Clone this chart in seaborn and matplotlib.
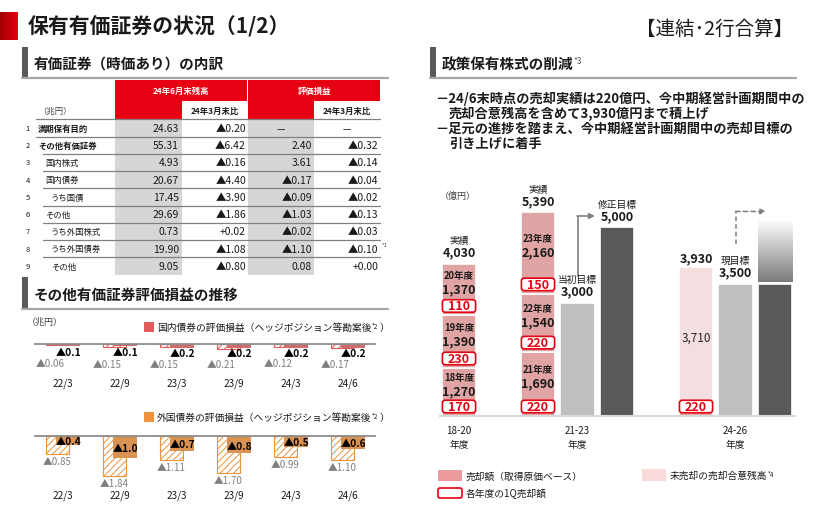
import numpy as np
import pandas as pd
import seaborn as sns
import matplotlib.pyplot as plt
from matplotlib.patches import Rectangle, FancyBboxPatch
from matplotlib.colors import LinearSegmentedColormap

sns.set_theme(style="white")
plt.rcParams['font.family'] = ['Noto Sans CJK JP', 'DejaVu Sans']
plt.rcParams['hatch.linewidth'] = 0.7

# --- 有価証券（時価あり）の内訳 (兆円) ---
row_labels = ["満期保有目的", "その他有価証券", "国内株式", "国内債券", "うち国債",
              "その他", "うち外国株式", "うち外国債券", "その他"]
row_level = [0, 0, 1, 1, 2, 1, 2, 2, 2]
balance = [24.63, 55.31, 4.93, 20.67, 17.45, 29.69, 0.73, 19.90, 9.05]
balance_chg = [-0.20, -6.42, -0.16, -4.40, -3.90, -1.86, 0.02, -1.08, -0.80]
gain = [None, 2.40, 3.61, -0.17, -0.09, -1.03, -0.02, -1.10, 0.08]
gain_chg = [None, -0.32, -0.14, -0.04, -0.02, -0.13, -0.03, -0.10, 0.00]

# --- その他有価証券評価損益の推移 (兆円, 損失額) ---
periods = ["22/3", "22/9", "23/3", "23/9", "24/3", "24/6"]
jgb_gross = [0.06, 0.15, 0.15, 0.21, 0.12, 0.17]
jgb_hedged = [0.1, 0.1, 0.2, 0.2, 0.2, 0.2]
fgn_gross = [0.85, 1.84, 1.11, 1.70, 0.99, 1.10]
fgn_hedged = [0.4, 1.0, 0.7, 0.8, 0.5, 0.6]

# --- 政策保有株式の削減 (億円) ---
plan_periods = ["18-20", "21-23", "24-26"]
fy_a = ["18年度", "19年度", "20年度"]
sold_a = [1270, 1390, 1370]
q1_a = [170, 230, 110]
fy_b = ["21年度", "22年度", "23年度"]
sold_b = [1690, 1540, 2160]
q1_b = [220, 220, 150]
target_b_initial = 3000
target_b_revised = 5000
sold_c = 220
agreed_c = 3710
target_c = 3500
target_c_hint = 5200   # 引き上げ予定 (ぼかし上端)

RED = '#E60012'
SALMON = '#EA9A9A'
PINK = '#F9DADB'
LGREY = '#BFBFBF'
DGREY = '#595959'
JGB = '#E15B5B'
FGN = '#F0913C'
TXT = '#1A1A1A'

W, H = 815, 510
fig = plt.figure(figsize=(W / 100, H / 100), dpi=100)
fig.patch.set_facecolor('white')


def px_axes(x, y, w, h):
    ax = fig.add_axes([x / W, 1 - (y + h) / H, w / W, h / H])
    ax.patch.set_alpha(0)
    return ax


bg = px_axes(0, 0, W, H)
bg.axis('off')

# title
cm_red = LinearSegmentedColormap.from_list('red', ['#A00000', RED])
bg.imshow(np.linspace(0, 1, 64).reshape(1, -1), cmap=cm_red,
          extent=[0, 18, 41, 13], aspect='auto')
bg.text(28, 27, "保有有価証券の状況（1/2）", fontsize=15, fontweight='bold',
        ha='left', va='center', color=TXT)
bg.text(793, 29, "【連結･2行合算】", fontsize=14, ha='right', va='center', color=TXT)


def section(x0, x1, y0, y1, title):
    bg.add_patch(Rectangle((x0, y0), 6, y1 - y0, color=DGREY, lw=0))
    bg.plot([x0, x1], [y1, y1], color='#A6A6A6', lw=1.6)
    return bg.text(x0 + 12, (y0 + y1) / 2 + 1, title, fontsize=10.5,
                   fontweight='bold', ha='left', va='center', color=TXT)


section(22, 388, 48, 79, "有価証券（時価あり）の内訳")
t = section(430, 796, 48, 79, "政策保有株式の削減")
bg.annotate("*3", xy=(1, 0.95), xycoords=t, fontsize=6, color='#595959',
            ha='left', va='top')
section(22, 388, 278, 310, "その他有価証券評価損益の推移")

# bullets
bullets = [("－24/6末時点の売却実績は220億円、今中期経営計画期間中の", 435, 99),
           ("売却合意残高を含めて3,930億円まで積上げ", 449, 114),
           ("－足元の進捗を踏まえ、今中期経営計画期間中の売却目標の", 435, 129),
           ("引き上げに着手", 449, 144)]
for s, x, y in bullets:
    bg.text(x, y, s, fontsize=9.5, fontweight='bold', ha='left', va='center', color=TXT)


# ---------------- table ----------------
def fmt_chg(v):
    return f"▲{abs(v):.2f}" if v < 0 else f"+{v:.2f}"


def fmt_lvl(v):
    return f"▲{abs(v):.2f}" if v < 0 else f"{v:.2f}"


bg.add_patch(Rectangle((115, 81), 132, 39, color=RED, lw=0))
bg.add_patch(Rectangle((248, 81), 132, 39, color=RED, lw=0))
bg.add_patch(Rectangle((182, 102), 65, 18, color='white', lw=0))
bg.add_patch(Rectangle((314, 102), 66, 18, color='white', lw=0))
bg.text(181, 91, "24年6月末残高", color='white', fontsize=6, fontweight='bold',
        ha='center', va='center')
bg.text(314, 91, "評価損益", color='white', fontsize=6, fontweight='bold',
        ha='center', va='center')
bg.text(214.5, 111, "24年3月末比", fontsize=6, fontweight='bold', ha='center', va='center', color=TXT)
bg.text(347, 111, "24年3月末比", fontsize=6, fontweight='bold', ha='center', va='center', color=TXT)
bg.text(38, 111, "（兆円）", fontsize=6, ha='left', va='center', color='#404040')

row_y = [129 + 17.25 * i for i in range(len(row_labels))]
tbl_bottom = row_y[-1] + 8.6
bg.add_patch(Rectangle((115, 120), 67, tbl_bottom - 120, color='#D6D6D6', lw=0))
bg.add_patch(Rectangle((248, 120), 66, tbl_bottom - 120, color='#D6D6D6', lw=0))
bg.plot([36, 380], [120, 120], color='#808080', lw=0.9)
for i in range(len(row_labels) - 1):
    x0 = 36 if i == 0 else 43
    bg.plot([x0, 380], [row_y[i] + 8.6] * 2, color='#808080', lw=0.9)

label_x = [38, 45, 51]
for i, y in enumerate(row_y):
    bg.text(28, y, str(i + 1), fontsize=5.5, ha='center', va='center', color=TXT)
    bg.text(label_x[row_level[i]], y, row_labels[i], fontsize=6,
            fontweight='bold' if row_level[i] == 0 else 'normal',
            ha='left', va='center', color=TXT)
    bg.text(179, y, f"{balance[i]:.2f}", fontsize=7.5, ha='right', va='center', color=TXT)
    bg.text(246, y, fmt_chg(balance_chg[i]), fontsize=7.5, ha='right', va='center', color=TXT)
    if gain[i] is None:
        bg.text(281, y, "－", fontsize=7.5, ha='center', va='center', color=TXT)
        bg.text(347, y, "－", fontsize=7.5, ha='center', va='center', color=TXT)
    else:
        bg.text(312, y, fmt_lvl(gain[i]), fontsize=7.5, ha='right', va='center', color=TXT)
        bg.text(378, y, fmt_chg(gain_chg[i]), fontsize=7.5, ha='right', va='center', color=TXT)
bg.text(382, row_y[7] - 4, "*1", fontsize=4, ha='left', va='center', color='#404040')

# ---------------- valuation gain charts ----------------
bg.text(27, 322, "（兆円）", fontsize=6.5, ha='left', va='center', color='#404040')


def gain_chart(top, h, gross, hedged, color, legend, legend_y, label_px, domestic):
    ax = px_axes(35, top, 340, h)
    u = 1 / 21.7
    idx = np.arange(len(periods))
    d_gross = pd.DataFrame({"x": idx - 0.1, "v": -np.array(gross)})
    d_hedged = pd.DataFrame({"x": idx + 0.09, "v": -np.array(hedged)})
    sns.barplot(data=d_gross, x="x", y="v", orient='x', native_scale=True, width=0.4,
                errorbar=None, facecolor='white', edgecolor=color, hatch='/////',
                linewidth=0.8, ax=ax)
    sns.barplot(data=d_hedged, x="x", y="v", orient='x', native_scale=True, width=0.42,
                errorbar=None, color=color, linewidth=0, ax=ax)
    for i, (g, hv) in enumerate(zip(gross, hedged)):
        if domestic:
            gx, gy, hy = i - 0.22, -(g * 0.5 + 18 * u), -(hv * 0.5 + 7 * u)
        else:
            gx, gy, hy = i - 0.1, -(g + 7 * u), -hv * 0.55
        ax.text(gx, gy, f"▲{g:.2f}", color='#7F7F7F', fontsize=7,
                ha='center', va='center', clip_on=False)
        ax.text(i + 0.09, hy, f"▲{hv:.1f}", color='black', fontsize=7.3,
                fontweight='bold', ha='center', va='center', clip_on=False)
        ax.text(i, -label_px * u, periods[i], fontsize=7.2, ha='center',
                va='center', color=TXT, clip_on=False)
    ax.set_xlim(-0.491, 5.474)
    ax.set_ylim(-h * u, 0)
    for s in ['left', 'right', 'bottom']:
        ax.spines[s].set_visible(False)
    ax.spines['top'].set_color('#8C8C8C')
    ax.spines['top'].set_linewidth(1.3)
    ax.set_xticks([])
    ax.set_yticks([])
    ax.set(xlabel='', ylabel='')

    bg.add_patch(Rectangle((144, legend_y - 5), 10, 10, color=color, lw=0))
    t1 = bg.text(157, legend_y, legend, fontsize=7, ha='left', va='center', color=TXT)
    sup = bg.annotate("*2", xy=(1, 0.95), xycoords=t1, fontsize=4.5,
                      ha='left', va='top', color=TXT)
    bg.annotate(" ）", xy=(1, 0.5), xycoords=(sup, t1), fontsize=7,
                ha='left', va='center', color=TXT)


gain_chart(345, 47, jgb_gross, jgb_hedged, JGB,
           "国内債券の評価損益（ヘッジポジション等勘案後", 328, 39, True)
gain_chart(437, 63, fgn_gross, fgn_hedged, FGN,
           "外国債券の評価損益（ヘッジポジション等勘案後", 418, 59, False)

# ---------------- cross-shareholdings chart ----------------
ax = px_axes(440, 185, 355, 232)
UPP = 1 / 0.0378     # data units per pixel
XPX = 39.5           # pixels per x unit
P_A, P_B, P_BI, P_BR, P_C, P_CT, P_CH = 0, 2, 3, 4, 6, 7, 8


def bar(pos, height, bottom, color):
    sns.barplot(x=[pos], y=[height], orient='x', native_scale=True, width=0.88,
                errorbar=None, color=color, bottom=bottom, linewidth=1.2,
                edgecolor='white', ax=ax)


def q1_box(pos, yc, q):
    hh = 12.5 * UPP
    ax.add_patch(FancyBboxPatch((pos - 0.42, yc - hh / 2), 0.84, hh,
                                boxstyle="round,pad=0,rounding_size=0.07",
                                mutation_aspect=UPP * XPX, facecolor='white',
                                edgecolor=RED, lw=1.2, zorder=3))
    ax.text(pos, yc, f"{q}", color=RED, fontsize=9, fontweight='bold',
            ha='center', va='center', zorder=4)


def caption(pos, top, cap, val):
    ax.text(pos, top + 11.5 * UPP, val, fontsize=9, fontweight='bold',
            ha='center', va='center', color=TXT, clip_on=False)
    if cap:
        ax.text(pos, top + 23.5 * UPP, cap, fontsize=7, ha='center',
                va='center', color=TXT, clip_on=False)


def stack(pos, vals, fys, q1s):
    bottoms = np.concatenate([[0], np.cumsum(vals)[:-1]])
    for b, v, fy, q in zip(bottoms, vals, fys, q1s):
        bar(pos, v, b, SALMON)
        top = b + v
        mid = (top + b + 15.75 * UPP) / 2
        ax.text(pos, mid + 7 * UPP, fy, fontsize=6.8, fontweight='bold',
                ha='center', va='center', color=TXT)
        ax.text(pos, mid - 7 * UPP, f"{v:,}", fontsize=9, fontweight='bold',
                ha='center', va='center', color=TXT)
        q1_box(pos, b + 9.5 * UPP, q)
    caption(pos, sum(vals), "実績", f"{sum(vals):,}")


stack(P_A, sold_a, fy_a, q1_a)
stack(P_B, sold_b, fy_b, q1_b)
bar(P_BI, target_b_initial, 0, LGREY)
caption(P_BI, target_b_initial, "当初目標", f"{target_b_initial:,}")
bar(P_BR, target_b_revised, 0, DGREY)
caption(P_BR, target_b_revised, "修正目標", f"{target_b_revised:,}")

bar(P_C, sold_c, 0, SALMON)
bar(P_C, agreed_c, sold_c, PINK)
q1_box(P_C, 9.5 * UPP, sold_c)
ax.text(P_C, sold_c + agreed_c / 2, f"{agreed_c:,}", fontsize=8.5,
        ha='center', va='center', color='#262626')
ax.text(P_C, sold_c + agreed_c + 10 * UPP, f"{sold_c + agreed_c:,}", fontsize=9,
        fontweight='bold', ha='center', va='center', color=TXT)
bar(P_CT, target_c, 0, LGREY)
caption(P_CT, target_c, "現目標", f"{target_c:,}")
bar(P_CH, target_c, 0, DGREY)
cm_fade = LinearSegmentedColormap.from_list('fade', ['#FFFFFF', '#7A7A7A'])
ax.imshow(np.linspace(1, 0, 100).reshape(-1, 1), cmap=cm_fade, vmin=0, vmax=1,
          origin='lower', extent=[P_CH - 0.44, P_CH + 0.44, target_c + 1.5 * UPP, target_c_hint],
          aspect='auto', zorder=1)

# arrows
y0 = target_b_initial + 26 * UPP
y1 = target_b_revised + 11 * UPP
ax.plot([P_BI, P_BI], [y0, y1], color='#7F7F7F', lw=1.2, solid_capstyle='butt')
ax.annotate("", xy=(P_BI + 0.44, y1), xytext=(P_BI - 0.01, y1),
            arrowprops=dict(arrowstyle='-|>', color='#7F7F7F', lw=1.2,
                            shrinkA=0, shrinkB=0, mutation_scale=8))
y0 = target_c + 40 * UPP
y1 = target_c_hint + 8 * UPP
ax.plot([P_CT, P_CT], [y0, y1], color='#7F7F7F', lw=1.1, ls=(0, (3, 2)))
ax.annotate("", xy=(P_CT + 0.77, y1), xytext=(P_CT, y1),
            arrowprops=dict(arrowstyle='-|>', color='#7F7F7F', lw=1.1, ls=(0, (3, 2)),
                            shrinkA=0, shrinkB=0, mutation_scale=8))

for pos, lab in zip([P_A, P_BI, P_CT], plan_periods):
    ax.text(pos, -14 * UPP, lab, fontsize=7, ha='center', va='center', color=TXT, clip_on=False)
    ax.text(pos, -28 * UPP, "年度", fontsize=7, ha='center', va='center', color=TXT, clip_on=False)

ax.set_xlim(-0.481, 8.506)
ax.set_ylim(0, 232 * UPP)
for s in ['left', 'right', 'top']:
    ax.spines[s].set_visible(False)
ax.spines['bottom'].set_color('#D9D9D9')
ax.spines['bottom'].set_linewidth(1.5)
ax.set_xticks([])
ax.set_yticks([])
ax.set(xlabel='', ylabel='')

bg.text(458, 196, "（億円）", fontsize=6.5, ha='center', va='center', color='#404040')

# legend
bg.add_patch(Rectangle((438, 471), 24, 11, color=SALMON, lw=0))
bg.text(466, 476.5, "売却額（取得原価ベース）", fontsize=7, ha='left', va='center', color=TXT)
bg.add_patch(FancyBboxPatch((438, 489), 24, 10, boxstyle="round,pad=0,rounding_size=2",
                            facecolor='white', edgecolor=RED, lw=1.2))
bg.text(466, 494, "各年度の1Q売却額", fontsize=7, ha='left', va='center', color=TXT)
bg.add_patch(Rectangle((642, 470), 24, 12, color=PINK, lw=0))
t2 = bg.text(670, 476, "未売却の売却合意残高", fontsize=7, ha='left', va='center', color=TXT)
bg.annotate("*4", xy=(1, 0.95), xycoords=t2, fontsize=4.5, ha='left', va='top', color=TXT)

bg.set_xlim(0, W)
bg.set_ylim(H, 0)

fig.savefig('out.png', dpi=100)
